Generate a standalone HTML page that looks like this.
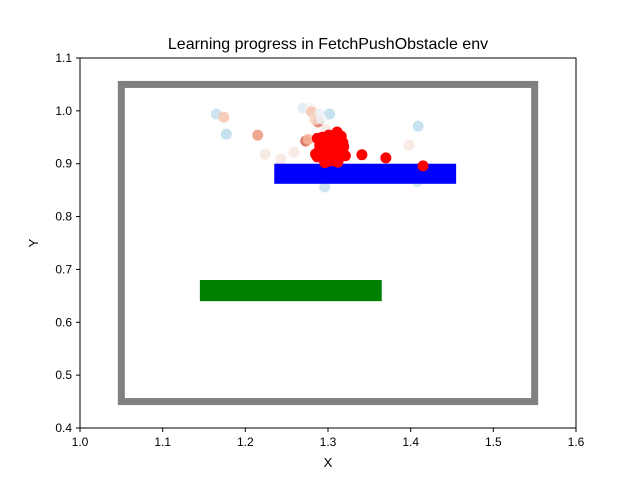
<!DOCTYPE html>
<html><head><meta charset="utf-8"><style>
body{margin:0;background:#fff;}
svg text{font-family:"Liberation Sans","DejaVu Sans",sans-serif;fill:#000;}
</style></head><body>
<svg id="chart" width="640" height="480" xmlns="http://www.w3.org/2000/svg">
<rect width="640" height="480" fill="#fff"/>
<g id="plot"></g>
<text x="328" y="49" font-size="16" text-anchor="middle">Learning progress in FetchPushObstacle env</text>
<text x="328" y="467" font-size="13" text-anchor="middle">X</text>
<text x="38" y="243" font-size="13" text-anchor="middle" transform="rotate(-90 38 243)">Y</text>
</svg>
<script>
const xTicks=[1.0,1.1,1.2,1.3,1.4,1.5,1.6];
const yTicks=[0.4,0.5,0.6,0.7,0.8,0.9,1.0,1.1];
const ptX=[1.165,1.174,1.177,1.215,1.224,1.243,1.270,1.279,1.280,1.290,1.302,1.288,1.284,1.298,1.273,1.276,1.259,1.296,1.409,1.398,1.292,1.305,1.285,1.292,1.30,1.408,1.341,1.370,1.415,
1.287,1.292,1.301,1.311,1.313,1.295,1.305,1.315,1.287,1.295,1.306,1.314,1.290,1.301,1.310,1.285,1.313,1.301,1.318,1.296,
1.291,1.298,1.306,1.316,1.319,1.289,1.303,1.309,1.296,1.312,1.321,1.293,1.304,1.318];
const ptY=[0.994,0.988,0.956,0.954,0.918,0.909,1.005,1.005,0.998,0.994,0.994,0.979,0.984,0.964,0.943,0.946,0.922,0.856,0.971,0.935,0.985,0.945,0.92,0.93,0.92,0.866,0.917,0.911,0.896,
0.948,0.941,0.954,0.960,0.945,0.926,0.926,0.930,0.913,0.909,0.911,0.913,0.935,0.935,0.935,0.918,0.941,0.905,0.922,0.920,
0.930,0.938,0.947,0.952,0.932,0.924,0.918,0.905,0.902,0.903,0.915,0.950,0.928,0.940];
const ptV=[0.3,0.65,0.25,0.75,0.55,0.55,0.4,0.5,0.65,0.45,0.25,0.8,0.6,0.55,0.85,0.7,0.55,0.3,0.25,0.55,0.45,0.4,0.6,0.5,0.45,0.35,1,1,1,
1,1,1,1,1,1,1,1,1,1,1,1,1,1,1,1,1,1,1,1,
1,1,1,1,1,1,1,1,1,1,1,1,1,1];
const X=v=>80+(v-1.0)*496/0.6, Y=v=>428-(v-0.4)*370/0.7;
const NS='http://www.w3.org/2000/svg', g=document.getElementById('plot');
function mk(t,a){const e=document.createElementNS(NS,t);for(const k in a)e.setAttribute(k,a[k]);g.appendChild(e);return e;}
function col(v){if(v>=1)return '#ff0000';
 const s=[[0,[146,197,222]],[0.3,[198,224,238]],[0.5,[247,247,247]],[0.7,[246,180,150]],[0.85,[214,96,77]]];
 let i=0;while(i<s.length-2&&v>s[i+1][0])i++;const a=s[i],b=s[i+1];const t=Math.min(1,Math.max(0,(v-a[0])/(b[0]-a[0])));
 return 'rgb('+a[1].map((c,j)=>Math.round(c+(b[1][j]-c)*t)).join(',')+')';}
let e;
e=mk('rect',{x:X(1.05),y:Y(1.05),width:X(1.55)-X(1.05),height:Y(0.45)-Y(1.05),fill:'none',stroke:'#808080','stroke-width':7});


e=mk('rect',{x:X(1.145),y:Y(0.68),width:X(1.365)-X(1.145),height:Y(0.64)-Y(0.68),fill:'#008000'});


ptX.forEach((x,i)=>{if(ptV[i]<1){e=mk('circle',{cx:X(x),cy:Y(ptY[i]),r:5.5,fill:col(ptV[i]),'fill-opacity':0.85});

}});
e=mk('rect',{x:X(1.235),y:Y(0.9),width:X(1.455)-X(1.235),height:Y(0.862)-Y(0.9),fill:'#0000ff'});


ptX.forEach((x,i)=>{if(ptV[i]>=1){e=mk('circle',{cx:X(x),cy:Y(ptY[i]),r:5.5,fill:col(ptV[i])});

}});
e=mk('rect',{x:80,y:58,width:496,height:370,fill:'none',stroke:'#000','stroke-width':1});


xTicks.forEach(v=>{mk('line',{x1:X(v),x2:X(v),y1:428,y2:432,stroke:'#000'});
e=mk('text',{x:X(v),y:446,'font-size':12,'text-anchor':'middle'});e.textContent=v.toFixed(1);

});
yTicks.forEach(v=>{mk('line',{x1:76,x2:80,y1:Y(v),y2:Y(v),stroke:'#000'});
e=mk('text',{x:72,y:Y(v)+4,'font-size':12,'text-anchor':'end'});e.textContent=v.toFixed(1);

});
</script>
</body></html>
